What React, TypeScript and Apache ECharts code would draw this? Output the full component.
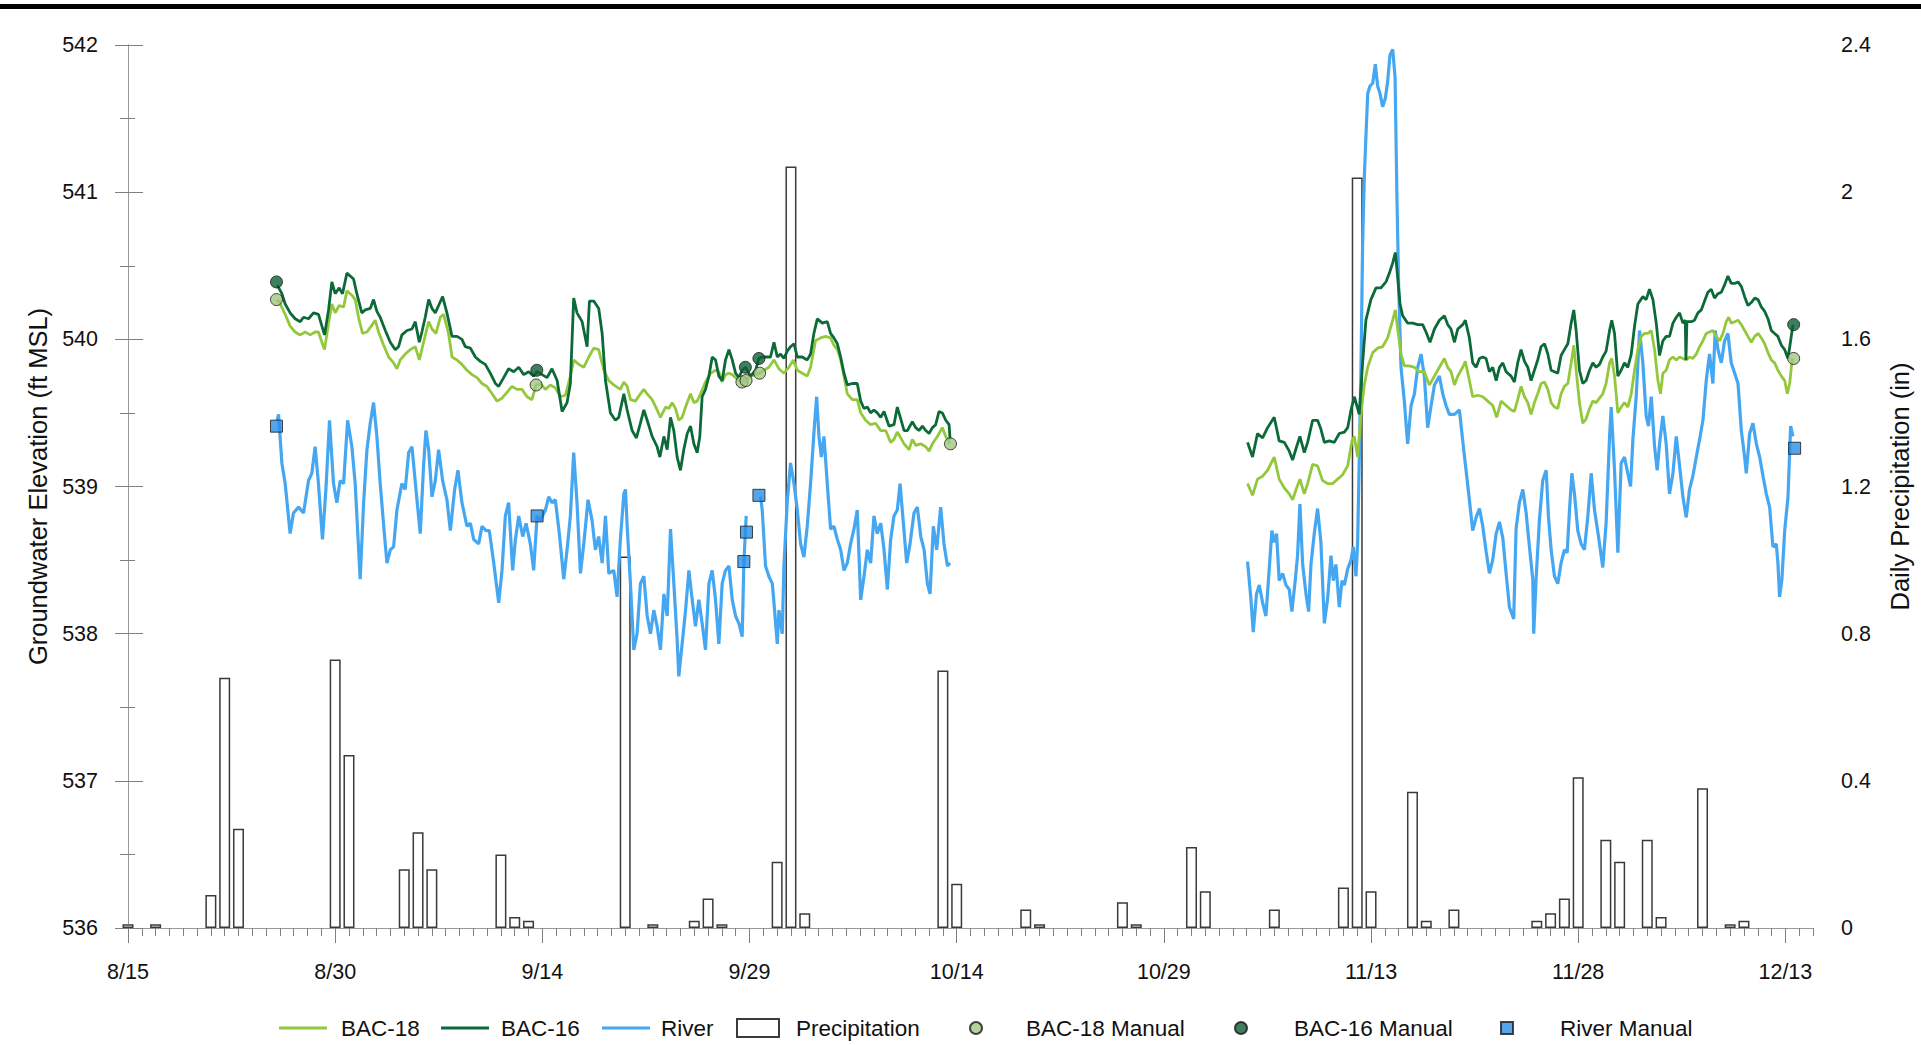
import React, { useEffect, useRef } from "react";
import * as echarts from "echarts";

// ---------- data ----------
const xTickDays = [0, 15, 30, 45, 60, 75, 90, 105, 120];
const xTickLabels = ["8/15", "8/30", "9/14", "9/29", "10/14", "10/29", "11/13", "11/28", "12/13"];

type P = [number, number | null];

const bac18Seg1: P[] = [
  [10.8, 540.27], [11.02, 540.24], [11.38, 540.17], [11.74, 540.09], [12.1, 540.05], [12.47, 540.03], [12.83, 540.05], [13.19, 540.03], [13.55, 540.05], [13.79, 540.05], [14.04, 539.98], [14.23, 539.93], [14.52, 540.11], [14.76, 540.24], [15.0, 540.18], [15.29, 540.23], [15.61, 540.22], [15.85, 540.33], [16.21, 540.3], [16.45, 540.27], [16.69, 540.15], [16.98, 540.04], [17.3, 540.05], [17.61, 540.09], [17.9, 540.13], [18.14, 540.05], [18.51, 539.96], [18.87, 539.88], [19.23, 539.84], [19.47, 539.8], [19.71, 539.86], [20.07, 539.9], [20.44, 539.93], [20.8, 539.95], [21.09, 539.86], [21.4, 539.98], [21.77, 540.12], [22.01, 540.07], [22.3, 540.04], [22.61, 540.15], [22.85, 540.17], [23.21, 540.04], [23.46, 539.88], [23.82, 539.86], [24.18, 539.83], [24.54, 539.79], [24.91, 539.76], [25.27, 539.74], [25.63, 539.7], [25.99, 539.68], [26.36, 539.63], [26.72, 539.58], [27.08, 539.6], [27.44, 539.64], [27.8, 539.68], [28.17, 539.66], [28.53, 539.66], [28.89, 539.61], [29.25, 539.59], [29.54, 539.69], [29.86, 539.7], [30.22, 539.66], [30.58, 539.69], [30.94, 539.67], [31.31, 539.61], [31.67, 539.62], [32.03, 539.75], [32.27, 539.86], [32.64, 539.83], [33.0, 539.81], [33.36, 539.88], [33.72, 539.94], [34.08, 539.93], [34.45, 539.79], [34.81, 539.72], [35.17, 539.69], [35.65, 539.66], [35.9, 539.71], [36.14, 539.68], [36.38, 539.59], [36.74, 539.58], [37.1, 539.63], [37.35, 539.66], [37.59, 539.63], [37.95, 539.59], [38.31, 539.52], [38.55, 539.47], [38.92, 539.54], [39.16, 539.53], [39.4, 539.57], [39.64, 539.53], [39.88, 539.45], [40.12, 539.47], [40.37, 539.54], [40.73, 539.63], [40.97, 539.57], [41.21, 539.58], [41.45, 539.63], [41.81, 539.71], [42.18, 539.77], [42.54, 539.79], [42.78, 539.78], [43.02, 539.71], [43.26, 539.76], [43.51, 539.77], [43.75, 539.76], [43.99, 539.74], [44.23, 539.72], [44.59, 539.72], [45.07, 539.75], [45.44, 539.76], [45.73, 539.77], [46.04, 539.79], [46.4, 539.81], [46.77, 539.86], [47.13, 539.8], [47.49, 539.77], [47.85, 539.81], [48.17, 539.86], [48.46, 539.79], [48.82, 539.77], [49.18, 539.75], [49.42, 539.81], [49.78, 539.99], [50.15, 540.01], [50.51, 540.02], [50.87, 540.01], [51.11, 539.96], [51.36, 539.93], [51.6, 539.86], [51.84, 539.75], [52.08, 539.63], [52.44, 539.59], [52.8, 539.59], [53.05, 539.5], [53.41, 539.45], [53.77, 539.42], [54.13, 539.43], [54.5, 539.38], [54.86, 539.38], [55.22, 539.3], [55.46, 539.32], [55.7, 539.37], [55.95, 539.33], [56.19, 539.29], [56.55, 539.25], [56.79, 539.32], [57.03, 539.28], [57.39, 539.29], [57.76, 539.27], [58.0, 539.24], [58.24, 539.29], [58.6, 539.34], [58.96, 539.4], [59.21, 539.34], [59.52, 539.29],
];
const bac18Seg2: P[] = [
  [81.06, 539.02], [81.42, 538.94], [81.78, 539.05], [82.15, 539.07], [82.51, 539.11], [82.99, 539.2], [83.35, 539.05], [83.72, 538.99], [84.08, 538.95], [84.32, 538.91], [84.61, 538.99], [84.85, 539.05], [85.17, 538.95], [85.41, 539.02], [85.77, 539.15], [86.13, 539.14], [86.49, 539.04], [86.86, 539.02], [87.22, 539.02], [87.58, 539.05], [87.94, 539.08], [88.31, 539.14], [88.62, 539.31], [88.79, 539.34], [89.03, 539.2], [89.27, 539.49], [89.51, 539.69], [89.76, 539.81], [90.12, 539.91], [90.48, 539.94], [90.84, 539.95], [91.2, 540.01], [91.57, 540.13], [91.76, 540.2], [91.93, 540.07], [92.17, 539.9], [92.41, 539.82], [92.78, 539.82], [93.14, 539.81], [93.5, 539.78], [93.86, 539.78], [94.22, 539.69], [94.59, 539.75], [94.95, 539.81], [95.31, 539.87], [95.55, 539.81], [95.79, 539.78], [96.04, 539.69], [96.28, 539.75], [96.64, 539.81], [96.83, 539.85], [97.12, 539.72], [97.36, 539.61], [97.73, 539.62], [98.09, 539.61], [98.45, 539.58], [98.81, 539.55], [99.1, 539.47], [99.42, 539.58], [99.78, 539.55],
  [100.14, 539.52], [100.38, 539.51], [100.62, 539.59], [100.86, 539.68], [101.11, 539.61], [101.35, 539.57], [101.59, 539.49], [101.83, 539.57], [102.07, 539.63], [102.31, 539.7], [102.56, 539.71], [102.8, 539.66], [103.04, 539.57], [103.28, 539.54], [103.52, 539.53], [103.76, 539.63], [104.0, 539.68], [104.25, 539.7], [104.49, 539.84], [104.68, 539.96], [104.85, 539.79], [105.09, 539.57], [105.33, 539.43], [105.57, 539.46], [105.82, 539.53], [106.06, 539.58], [106.3, 539.57], [106.54, 539.6], [106.78, 539.63], [107.02, 539.7], [107.27, 539.84], [107.43, 539.87], [107.63, 539.75], [107.87, 539.5], [108.11, 539.54], [108.35, 539.57], [108.59, 539.54], [108.84, 539.63], [109.08, 539.79], [109.32, 539.93], [109.56, 540.02], [109.8, 540.04], [110.04, 540.04], [110.29, 540.06], [110.53, 539.93], [110.77, 539.72], [110.96, 539.63], [111.13, 539.77], [111.37, 539.79], [111.61, 539.86], [111.86, 539.88], [112.1, 539.86], [112.34, 539.88], [112.58, 539.87], [112.82, 539.86], [113.06, 539.88], [113.3, 539.87], [113.55, 539.9], [113.79, 539.95], [114.03, 539.99], [114.27, 540.04], [114.51, 540.05], [114.75, 540.06], [114.99, 540.02], [115.24, 539.99], [115.48, 540.04], [115.72, 540.12], [115.89, 540.15], [116.08, 540.11], [116.33, 540.12], [116.57, 540.13], [116.81, 540.1], [117.05, 540.06], [117.29, 540.02], [117.53, 539.98], [117.78, 540.02], [118.02, 540.04], [118.26, 540.01], [118.5, 539.97], [118.74, 539.91], [118.98, 539.86], [119.22, 539.84], [119.46, 539.79], [119.71, 539.75], [119.95, 539.72], [120.14, 539.63], [120.31, 539.7], [120.5, 539.87],
];

const bac16Seg1: P[] = [
  [10.8, 540.37], [11.14, 540.31], [11.38, 540.24], [11.74, 540.18], [12.1, 540.14], [12.47, 540.12], [12.71, 540.15], [13.07, 540.14], [13.43, 540.18], [13.79, 540.17], [14.04, 540.09], [14.23, 540.03], [14.52, 540.2], [14.76, 540.39], [15.0, 540.31], [15.29, 540.35], [15.53, 540.31], [15.85, 540.45], [16.09, 540.43], [16.33, 540.41], [16.57, 540.31], [16.93, 540.18], [17.18, 540.2], [17.54, 540.21], [17.78, 540.27], [18.02, 540.19], [18.26, 540.15], [18.63, 540.06], [18.99, 539.98], [19.35, 539.93], [19.59, 539.95], [19.83, 540.03], [20.2, 540.06], [20.56, 540.07], [20.8, 540.12], [21.09, 539.98], [21.28, 540.05], [21.52, 540.15], [21.77, 540.27], [22.01, 540.21], [22.25, 540.18], [22.49, 540.23], [22.78, 540.29], [23.09, 540.18], [23.46, 540.02], [23.82, 540.02], [24.18, 540.0], [24.42, 539.95], [24.79, 539.94], [25.15, 539.88], [25.51, 539.85], [25.87, 539.83], [26.23, 539.77], [26.6, 539.7], [26.84, 539.68], [27.2, 539.74], [27.56, 539.8], [27.93, 539.78], [28.29, 539.81], [28.65, 539.76], [29.01, 539.78], [29.37, 539.75], [29.62, 539.78], [29.98, 539.76], [30.34, 539.74], [30.7, 539.8], [31.07, 539.72], [31.43, 539.51], [31.79, 539.57], [32.03, 539.7], [32.27, 540.28], [32.51, 540.18], [32.88, 540.12], [33.24, 539.95], [33.41, 540.26], [33.72, 540.26], [34.08, 540.21], [34.33, 540.04], [34.57, 539.72], [34.93, 539.5], [35.29, 539.45], [35.53, 539.47], [35.9, 539.63], [36.14, 539.52], [36.5, 539.38], [36.81, 539.33], [37.1, 539.43], [37.35, 539.52], [37.59, 539.45], [37.95, 539.34], [38.31, 539.27], [38.51, 539.2], [38.8, 539.34], [39.04, 539.25], [39.28, 539.47], [39.52, 539.38], [39.76, 539.2], [40.0, 539.11], [40.24, 539.25], [40.49, 539.36], [40.73, 539.41], [40.97, 539.29], [41.21, 539.23], [41.4, 539.34], [41.57, 539.61], [41.81, 539.66], [42.06, 539.75], [42.3, 539.88], [42.54, 539.86], [42.78, 539.75], [43.02, 539.72], [43.26, 539.86], [43.51, 539.93], [43.75, 539.86], [43.99, 539.77], [44.23, 539.74], [44.47, 539.79], [44.71, 539.81], [45.07, 539.75], [45.44, 539.79], [45.68, 539.87], [45.92, 539.88], [46.28, 539.88], [46.52, 539.88], [46.77, 539.98], [47.01, 539.88], [47.25, 539.9], [47.49, 539.87], [47.73, 539.92], [47.97, 539.95], [48.22, 539.97], [48.46, 539.88], [48.82, 539.88], [49.18, 539.86], [49.42, 539.9], [49.66, 540.04], [49.91, 540.14], [50.27, 540.11], [50.63, 540.12], [50.87, 540.04], [51.11, 540.01], [51.36, 539.97], [51.6, 539.88], [51.84, 539.77], [52.08, 539.69], [52.44, 539.7], [52.8, 539.7], [53.05, 539.58], [53.29, 539.53], [53.53, 539.54], [53.77, 539.5], [54.01, 539.52], [54.25, 539.5], [54.5, 539.47], [54.74, 539.51], [55.1, 539.41], [55.46, 539.42], [55.7, 539.54], [55.95, 539.46], [56.19, 539.38], [56.43, 539.38], [56.79, 539.44], [57.03, 539.4], [57.27, 539.38], [57.52, 539.41], [57.76, 539.38], [58.0, 539.36], [58.24, 539.4], [58.48, 539.42], [58.72, 539.51], [58.96, 539.5], [59.21, 539.45], [59.45, 539.42], [59.52, 539.32],
];
const bac16Seg2: P[] = [
  [81.06, 539.3], [81.42, 539.2], [81.78, 539.36], [82.15, 539.33], [82.51, 539.4], [82.99, 539.47], [83.35, 539.31], [83.72, 539.3], [84.08, 539.24], [84.32, 539.18], [84.61, 539.27], [84.85, 539.34], [85.17, 539.23], [85.41, 539.3], [85.77, 539.45], [86.13, 539.45], [86.37, 539.39], [86.62, 539.3], [86.98, 539.31], [87.34, 539.3], [87.7, 539.36], [88.07, 539.37], [88.31, 539.4], [88.55, 539.52], [88.79, 539.61], [89.03, 539.53], [89.15, 539.49], [89.39, 539.84], [89.63, 540.13], [89.99, 540.27], [90.36, 540.35], [90.72, 540.35], [91.08, 540.39], [91.33, 540.45], [91.57, 540.52], [91.76, 540.59], [91.93, 540.42], [92.1, 540.24], [92.29, 540.16], [92.65, 540.11], [93.02, 540.11], [93.38, 540.1], [93.74, 540.1], [93.98, 540.05], [94.27, 539.98], [94.59, 540.07], [94.95, 540.13], [95.31, 540.16], [95.55, 540.1], [95.79, 540.07], [96.04, 539.98], [96.28, 540.07], [96.64, 540.1], [96.83, 540.13], [97.12, 540.01], [97.36, 539.84], [97.61, 539.81], [97.85, 539.87], [98.09, 539.88], [98.33, 539.87], [98.57, 539.78], [98.81, 539.81], [99.06, 539.72], [99.3, 539.81], [99.54, 539.84], [99.78, 539.78],
  [100.14, 539.75], [100.38, 539.71], [100.62, 539.84], [100.86, 539.93], [101.11, 539.85], [101.35, 539.81], [101.59, 539.72], [101.83, 539.79], [102.07, 539.86], [102.31, 539.95], [102.56, 539.97], [102.8, 539.9], [103.04, 539.79], [103.28, 539.78], [103.52, 539.77], [103.76, 539.89], [104.0, 539.93], [104.25, 539.97], [104.49, 540.11], [104.68, 540.2], [104.85, 540.06], [105.09, 539.79], [105.33, 539.7], [105.57, 539.72], [105.82, 539.79], [106.06, 539.84], [106.3, 539.81], [106.54, 539.83], [106.78, 539.88], [107.02, 539.92], [107.27, 540.06], [107.43, 540.13], [107.63, 540.04], [107.87, 539.75], [108.11, 539.79], [108.35, 539.84], [108.59, 539.81], [108.84, 539.9], [109.08, 540.09], [109.32, 540.24], [109.68, 540.29], [109.92, 540.27], [110.16, 540.34], [110.41, 540.27], [110.65, 540.11], [110.89, 539.89], [111.13, 539.99], [111.37, 540.02], [111.61, 540.02], [111.86, 540.11], [112.1, 540.15], [112.34, 540.18], [112.58, 540.11], [112.75, 540.13], [112.8, 539.86], [112.87, 540.12], [113.18, 540.12], [113.42, 540.13], [113.67, 540.18], [113.91, 540.2], [114.15, 540.26], [114.39, 540.32], [114.63, 540.34], [114.87, 540.28], [115.12, 540.31], [115.36, 540.32], [115.6, 540.37], [115.84, 540.43], [116.08, 540.38], [116.33, 540.38], [116.57, 540.39], [116.81, 540.36], [117.05, 540.29], [117.29, 540.23], [117.53, 540.25], [117.78, 540.28], [118.02, 540.27], [118.26, 540.22], [118.5, 540.19], [118.74, 540.14], [118.98, 540.06], [119.22, 540.04], [119.46, 540.02], [119.71, 539.96], [119.95, 539.93], [120.19, 539.87], [120.38, 539.99], [120.55, 540.1],
];

const riverSeg1a: P[] = [
  [10.8, 539.45], [10.9, 539.49], [11.14, 539.16], [11.38, 539.02], [11.74, 538.68], [11.98, 538.82], [12.35, 538.86], [12.71, 538.82], [13.07, 539.04], [13.31, 539.09], [13.55, 539.27], [13.79, 539.02], [14.08, 538.64], [14.33, 538.98], [14.59, 539.45], [14.88, 539.02], [15.12, 538.89], [15.36, 539.04], [15.61, 539.02], [15.9, 539.45], [16.21, 539.27], [16.45, 539.02], [16.81, 538.37], [17.06, 538.89], [17.3, 539.25], [17.54, 539.43], [17.78, 539.57], [18.02, 539.34], [18.26, 539.02], [18.58, 538.66], [18.75, 538.48], [18.99, 538.57], [19.23, 538.59], [19.47, 538.84], [19.83, 539.02], [20.07, 538.98], [20.32, 539.23], [20.56, 539.27], [20.85, 538.98], [21.16, 538.68], [21.4, 539.14], [21.57, 539.38], [21.77, 539.25], [22.01, 538.93], [22.25, 539.04], [22.49, 539.25], [22.78, 539.04], [23.09, 538.91], [23.34, 538.7], [23.65, 538.98], [23.89, 539.11], [24.18, 538.89], [24.54, 538.73], [24.79, 538.75], [25.03, 538.64], [25.39, 538.61], [25.63, 538.73], [25.92, 538.7], [26.16, 538.7], [26.48, 538.48], [26.84, 538.21], [27.08, 538.43], [27.32, 538.8], [27.56, 538.89], [27.85, 538.43], [28.05, 538.64], [28.29, 538.8], [28.58, 538.66], [28.82, 538.75], [29.13, 538.61], [29.37, 538.43], [29.62, 538.8], [29.86, 538.77], [30.22, 538.84], [30.46, 538.93], [30.7, 538.89], [30.94, 538.91], [31.23, 538.68], [31.55, 538.37], [31.79, 538.57], [32.03, 538.8], [32.27, 539.23], [32.51, 538.89], [32.76, 538.41], [33.0, 538.61], [33.31, 538.91], [33.6, 538.77], [33.84, 538.57], [34.08, 538.66], [34.33, 538.48], [34.57, 538.8], [34.81, 538.41], [35.17, 538.43], [35.41, 538.25], [35.65, 538.64], [35.9, 538.95], [36.02, 538.98], [36.14, 538.73], [36.38, 538.34], [36.62, 537.89], [36.86, 538.0], [37.1, 538.34], [37.35, 538.39], [37.59, 538.12], [37.83, 538.0], [38.07, 538.16], [38.31, 538.05], [38.55, 537.89], [38.8, 538.27], [39.04, 538.12], [39.28, 538.71], [39.52, 538.34], [39.76, 537.96], [39.88, 537.71], [40.12, 537.93], [40.37, 538.16], [40.61, 538.43], [40.85, 538.23], [41.09, 538.05], [41.33, 538.23], [41.57, 538.07], [41.81, 537.89], [42.06, 538.34], [42.3, 538.43], [42.54, 538.23], [42.78, 537.93], [43.02, 538.34], [43.26, 538.43], [43.51, 538.46], [43.75, 538.23], [43.99, 538.12], [44.23, 538.07], [44.47, 537.98], [44.59, 538.48], [44.76, 538.8],
];
const riverSeg1b: P[] = [
  [45.8, 538.93], [45.92, 538.84], [46.16, 538.46], [46.4, 538.39], [46.65, 538.34], [46.77, 538.21], [47.01, 537.93], [47.13, 538.16], [47.37, 538.0], [47.49, 538.46], [47.73, 538.89], [47.97, 539.16], [48.22, 539.02], [48.46, 538.84], [48.7, 538.61], [48.94, 538.52], [49.18, 538.73], [49.42, 539.02], [49.66, 539.36], [49.86, 539.61], [50.03, 539.34], [50.2, 539.2], [50.39, 539.34], [50.63, 539.02], [50.87, 538.71], [51.11, 538.73], [51.36, 538.64], [51.6, 538.57], [51.84, 538.43], [52.08, 538.48], [52.32, 538.61], [52.56, 538.71], [52.8, 538.84], [53.05, 538.23], [53.29, 538.39], [53.53, 538.57], [53.77, 538.48], [54.01, 538.8], [54.25, 538.68], [54.5, 538.75], [54.74, 538.57], [54.98, 538.3], [55.22, 538.64], [55.46, 538.8], [55.7, 538.84], [55.9, 539.02], [56.14, 538.75], [56.38, 538.48], [56.62, 538.61], [56.91, 538.82], [57.15, 538.86], [57.4, 538.66], [57.64, 538.57], [57.88, 538.34], [58.07, 538.27], [58.31, 538.73], [58.55, 538.57], [58.84, 538.86], [59.08, 538.61], [59.33, 538.46], [59.52, 538.48],
];
const riverSeg2: P[] = [
  [81.06, 538.49], [81.3, 538.24], [81.47, 538.01], [81.71, 538.27], [81.91, 538.33], [82.15, 538.21], [82.39, 538.12], [82.63, 538.44], [82.82, 538.7], [82.99, 538.62], [83.16, 538.68], [83.35, 538.36], [83.6, 538.41], [83.84, 538.33], [84.08, 538.3], [84.27, 538.15], [84.51, 538.36], [84.68, 538.53], [84.85, 538.88], [85.05, 538.47], [85.29, 538.27], [85.48, 538.15], [85.65, 538.47], [85.89, 538.68], [86.13, 538.85], [86.37, 538.62], [86.62, 538.07], [86.86, 538.24], [87.1, 538.53], [87.27, 538.36], [87.46, 538.47], [87.7, 538.18], [87.9, 538.36], [88.07, 538.33], [88.31, 538.44], [88.55, 538.5], [88.72, 538.59], [88.91, 538.39], [89.03, 538.62], [89.15, 539.2], [89.27, 539.78], [89.39, 540.65], [89.51, 541.09], [89.63, 541.38], [89.76, 541.67], [89.92, 541.72], [90.12, 541.74], [90.31, 541.87], [90.48, 541.72], [90.65, 541.67], [90.84, 541.58], [91.04, 541.64], [91.2, 541.75], [91.37, 541.93], [91.57, 541.97], [91.74, 541.78], [91.88, 540.94], [92.0, 540.36], [92.17, 539.81], [92.41, 539.58], [92.65, 539.29], [92.9, 539.55], [93.14, 539.63], [93.38, 539.81], [93.62, 539.9], [93.86, 539.75], [94.1, 539.4], [94.35, 539.55], [94.59, 539.69], [94.95, 539.75], [95.19, 539.63], [95.43, 539.55], [95.67, 539.49], [96.04, 539.49], [96.4, 539.52], [96.64, 539.31], [96.88, 539.11], [97.12, 538.91], [97.36, 538.7], [97.61, 538.79], [97.85, 538.85], [98.09, 538.73], [98.33, 538.56], [98.57, 538.41], [98.81, 538.5], [99.06, 538.68], [99.3, 538.76], [99.54, 538.65], [99.78, 538.41], [100.02, 538.18],
  [100.33, 538.1], [100.5, 538.71], [100.74, 538.89], [100.99, 538.98], [101.23, 538.82], [101.47, 538.59], [101.71, 538.37], [101.78, 538.0], [101.95, 538.37], [102.19, 538.77], [102.43, 539.04], [102.68, 539.11], [102.85, 538.79], [103.04, 538.57], [103.28, 538.39], [103.52, 538.34], [103.76, 538.48], [104.0, 538.57], [104.2, 538.55], [104.37, 538.84], [104.54, 539.09], [104.73, 538.95], [104.97, 538.7], [105.21, 538.61], [105.45, 538.57], [105.7, 538.8], [105.94, 539.09], [106.18, 538.84], [106.47, 538.66], [106.78, 538.45], [107.02, 538.75], [107.27, 539.34], [107.39, 539.54], [107.63, 539.11], [107.87, 538.55], [108.11, 539.16], [108.35, 539.2], [108.59, 539.09], [108.79, 539.0], [108.96, 539.32], [109.2, 539.61], [109.44, 540.06], [109.68, 539.84], [109.92, 539.48], [110.09, 539.41], [110.29, 539.61], [110.53, 539.27], [110.72, 539.11], [110.89, 539.29], [111.13, 539.48], [111.37, 539.29], [111.61, 538.95], [111.86, 539.09], [112.1, 539.34], [112.34, 539.14], [112.58, 538.93], [112.82, 538.79], [113.06, 538.98], [113.3, 539.07], [113.55, 539.2], [113.79, 539.32], [114.03, 539.45], [114.27, 539.72], [114.51, 539.9], [114.75, 539.7], [114.92, 540.06], [115.12, 539.93], [115.36, 539.84], [115.6, 539.99], [115.84, 540.04], [116.08, 539.84], [116.33, 539.77], [116.57, 539.7], [116.81, 539.38], [117.05, 539.2], [117.17, 539.09], [117.41, 539.36], [117.65, 539.43], [117.9, 539.29], [118.14, 539.2], [118.38, 539.07], [118.62, 538.95], [118.86, 538.86], [119.1, 538.59], [119.34, 538.61], [119.46, 538.48], [119.58, 538.25], [119.75, 538.37], [119.95, 538.7], [120.19, 538.93], [120.38, 539.41], [120.55, 539.34],
];

const precipitation: [number, number][] = [
  [0, 0.01], [2, 0.01], [6, 0.09], [7, 0.68], [8, 0.27], [15, 0.73], [16, 0.47], [20, 0.16], [21, 0.26], [22, 0.16],
  [27, 0.2], [28, 0.03], [29, 0.02], [36, 1.01], [38, 0.01], [41, 0.02], [42, 0.08], [43, 0.01], [47, 0.18], [48, 2.07],
  [49, 0.04], [59, 0.7], [60, 0.12], [65, 0.05], [66, 0.01], [72, 0.07], [73, 0.01], [77, 0.22], [78, 0.1], [83, 0.05],
  [88, 0.11], [89, 2.04], [90, 0.1], [93, 0.37], [94, 0.02], [96, 0.05], [102, 0.02], [103, 0.04], [104, 0.08], [105, 0.41],
  [107, 0.24], [108, 0.18], [110, 0.24], [111, 0.03], [114, 0.38], [116, 0.01], [117, 0.02],
];

const bac18Manual: [number, number][] = [[10.75, 540.27], [29.55, 539.69], [44.45, 539.71], [44.75, 539.72], [45.73, 539.77], [59.55, 539.29], [120.6, 539.87]];
const bac16Manual: [number, number][] = [[10.75, 540.39], [29.6, 539.79], [44.7, 539.81], [45.68, 539.87], [120.6, 540.1]];
const riverManual: [number, number][] = [[10.75, 539.41], [29.62, 538.8], [44.59, 538.49], [44.78, 538.69], [45.68, 538.94], [120.67, 539.26]];

const GAP: P = [70, null];
const bac18 = [...bac18Seg1, GAP, ...bac18Seg2];
const bac16 = [...bac16Seg1, GAP, ...bac16Seg2];
const river = [...riverSeg1a, [45.2, null] as P, ...riverSeg1b, GAP, ...riverSeg2];

// ---------- style ----------
const FONT = "'Liberation Sans', Arial, sans-serif";
const C18 = "#93c83c";
const C16 = "#0c6a38";
const CRIV = "#45a7f2";
const AXIS = "#9a9a9a";
const TICK = "#808080";

const legendItem = (name: string, left: number, w: number, h: number, pad: number, icon?: string) => ({
  data: [name],
  left,
  top: 1016.5,
  padding: 0,
  itemWidth: w,
  itemHeight: h,
  selectedMode: false,
  ...(icon ? { icon } : {}),
  textStyle: { fontFamily: FONT, fontSize: 22.5, color: "#111", padding: [0, 0, 0, pad] },
});

const option: any = {
  animation: false,
  backgroundColor: "#ffffff",
  grid: { left: 128, right: 107, top: 45, bottom: 117, containLabel: false },
  graphic: [
    { type: "rect", shape: { x: 0, y: 4, width: 1921, height: 5 }, style: { fill: "#000" } },
  ],
  legend: [
    legendItem("BAC-18", 279, 48, 3, 9, "rect"),
    legendItem("BAC-16", 441, 48, 3, 7, "rect"),
    legendItem("River", 602, 48, 3, 6, "rect"),
    legendItem("Precipitation", 736, 42, 18, 12, "rect"),
    legendItem("BAC-18 Manual", 969, 12, 12, 39),
    legendItem("BAC-16 Manual", 1234, 12, 12, 42),
    legendItem("River Manual", 1500, 12, 12, 42),
  ],
  xAxis: [
    {
      type: "value",
      min: 0,
      max: 122,
      interval: 15,
      position: "bottom",
      axisLine: { show: true, onZero: false, lineStyle: { color: AXIS, width: 1 } },
      axisTick: { show: true, length: 15, customValues: xTickDays, lineStyle: { color: TICK } },
      axisLabel: {
        customValues: xTickDays,
        fontFamily: FONT,
        fontSize: 21.5,
        color: "#111",
        margin: 33,
        formatter: (v: number) => {
          const i = xTickDays.indexOf(Math.round(v));
          return i >= 0 ? xTickLabels[i] : "";
        },
      },
      splitLine: { show: false },
    },
    {
      type: "value",
      min: 0,
      max: 122,
      interval: 1,
      position: "bottom",
      offset: 0,
      axisLine: { show: false },
      axisTick: { show: true, length: 8, lineStyle: { color: TICK } },
      axisLabel: { show: false },
      splitLine: { show: false },
    },
  ],
  yAxis: [
    {
      type: "value",
      min: 536,
      max: 542,
      interval: 1,
      position: "left",
      axisLine: { show: true, lineStyle: { color: AXIS, width: 1 } },
      axisTick: { show: true, length: 13, lineStyle: { color: TICK } },
      minorTick: { show: true, splitNumber: 2, length: 8, lineStyle: { color: TICK } },
      splitLine: { show: false },
      axisLabel: { fontFamily: FONT, fontSize: 21.5, color: "#111", margin: 30 },
      name: "Groundwater Elevation (ft MSL)",
      nameLocation: "middle",
      nameRotate: 90,
      nameGap: 66,
      nameTextStyle: { fontFamily: FONT, fontSize: 25.5, color: "#111" },
    },
    {
      type: "value",
      min: 0,
      max: 2.4,
      interval: 0.4,
      position: "right",
      axisLine: { show: true, lineStyle: { color: AXIS, width: 1 } },
      axisTick: { show: true, length: 15, lineStyle: { color: TICK } },
      minorTick: { show: true, splitNumber: 2, length: 7, lineStyle: { color: TICK } },
      splitLine: { show: false },
      axisLabel: {
        fontFamily: FONT,
        fontSize: 21.5,
        color: "#111",
        margin: 28,
        formatter: (v: number) => String(Math.round(v * 10) / 10),
      },
      name: "Daily Precipitation (in)",
      nameLocation: "middle",
      nameRotate: 90,
      nameGap: 74,
      nameTextStyle: { fontFamily: FONT, fontSize: 25.5, color: "#111" },
    },
  ],
  series: [
    {
      name: "Precipitation",
      type: "bar",
      xAxisIndex: 0,
      yAxisIndex: 1,
      barWidth: 11,
      data: precipitation,
      itemStyle: { color: "#ffffff", borderColor: "#3a3a3a", borderWidth: 1.5 },
      z: 1,
    },
    {
      name: "BAC-18",
      type: "line",
      xAxisIndex: 0,
      yAxisIndex: 0,
      data: bac18,
      symbol: "none",
      connectNulls: false,
      lineStyle: { color: C18, width: 2.8 },
      itemStyle: { color: C18 },
      z: 3,
    },
    {
      name: "BAC-16",
      type: "line",
      xAxisIndex: 0,
      yAxisIndex: 0,
      data: bac16,
      symbol: "none",
      connectNulls: false,
      lineStyle: { color: C16, width: 2.8 },
      itemStyle: { color: C16 },
      z: 3,
    },
    {
      name: "River",
      type: "line",
      xAxisIndex: 0,
      yAxisIndex: 0,
      data: river,
      symbol: "none",
      connectNulls: false,
      lineStyle: { color: CRIV, width: 3.2 },
      itemStyle: { color: CRIV },
      z: 2,
    },
    {
      name: "BAC-18 Manual",
      type: "scatter",
      xAxisIndex: 0,
      yAxisIndex: 0,
      data: bac18Manual,
      symbol: "circle",
      symbolSize: 12,
      itemStyle: { color: "#a3c683", borderColor: "#1a1a1a", borderWidth: 1 },
      z: 5,
    },
    {
      name: "BAC-16 Manual",
      type: "scatter",
      xAxisIndex: 0,
      yAxisIndex: 0,
      data: bac16Manual,
      symbol: "circle",
      symbolSize: 12,
      itemStyle: { color: "#0f5f36", borderColor: "#1a1a1a", borderWidth: 1 },
      z: 5,
    },
    {
      name: "River Manual",
      type: "scatter",
      xAxisIndex: 0,
      yAxisIndex: 0,
      data: riverManual,
      symbol: "rect",
      symbolSize: 12,
      itemStyle: { color: "#2b8fe6", borderColor: "#1a1a1a", borderWidth: 1 },
      z: 5,
    },
  ],
};

export default function App() {
  const ref = useRef<HTMLDivElement>(null);
  useEffect(() => {
    if (!ref.current) return;
    const chart = echarts.init(ref.current, null, { renderer: "svg" });
    chart.setOption(option);
    return () => chart.dispose();
  }, []);
  return (
    <div
      ref={ref}
      style={{ position: "fixed", left: 0, top: 0, width: 1921, height: 1045, background: "#fff" }}
    />
  );
}
